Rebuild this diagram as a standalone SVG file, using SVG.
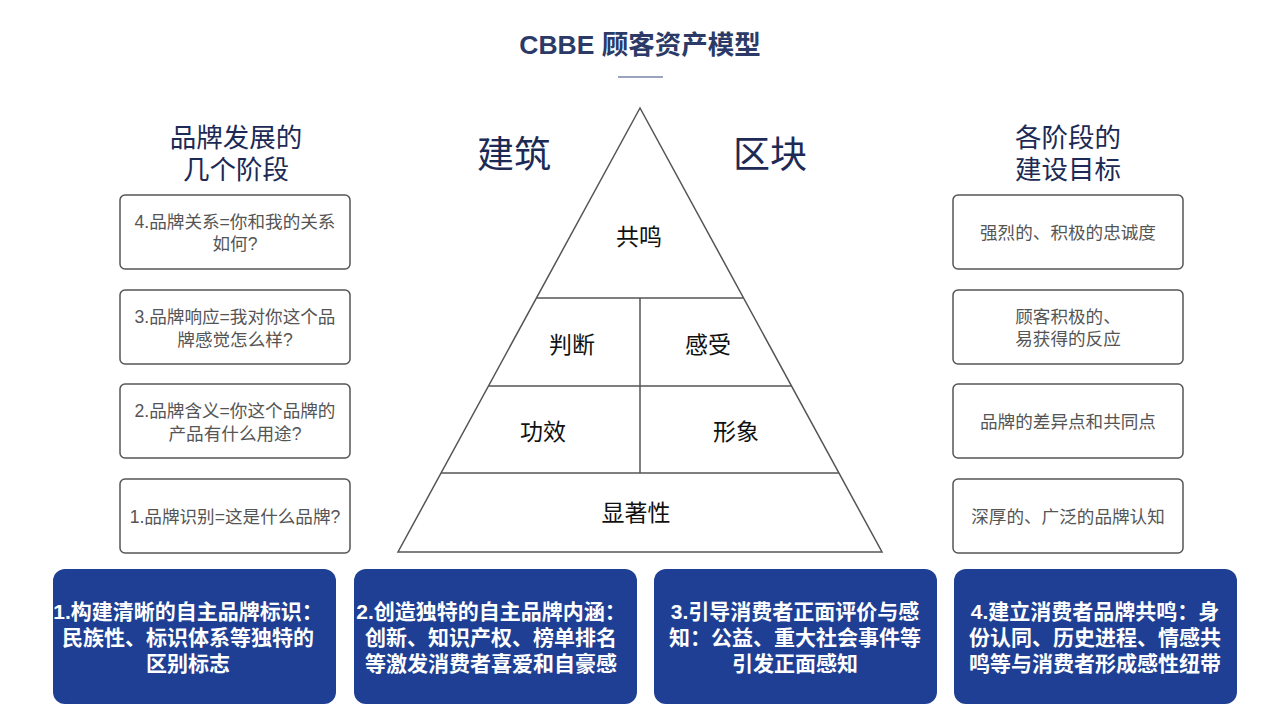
<svg xmlns="http://www.w3.org/2000/svg" width="1280" height="720" viewBox="0 0 1280 720">
<style>
text{font-family:"Liberation Sans","Noto Sans CJK SC",sans-serif;text-anchor:middle}
.title{font-size:26.5px;font-weight:bold;fill:#2b3a67}
.hdr{font-size:26.5px;fill:#1c2a55}
.big{font-size:37px;fill:#1c2a55}
.box{fill:#fff;stroke:#555;stroke-width:1.5}
.bt{font-size:17.6px;fill:#555}
.py{fill:none;stroke:#555;stroke-width:1.5}
.pt{font-size:23px;fill:#111}
.blue{fill:#1e3f94}
.wt{font-size:21px;font-weight:bold;fill:#fff}
</style>
<rect width="1280" height="720" fill="#fff"/>
<g id="title">
<text class="title" x="640" y="54">CBBE 顾客资产模型</text>
<line x1="618" y1="77" x2="663" y2="77" stroke="#7a86a8" stroke-width="1.5"/>
</g>
<g id="left-header"><text class="hdr" x="236" y="147">品牌发展的</text><text class="hdr" x="236" y="179">几个阶段</text></g>
<g id="right-header"><text class="hdr" x="1068" y="147">各阶段的</text><text class="hdr" x="1068" y="179">建设目标</text></g>
<g id="label-jianzhu"><text class="big" x="514" y="168">建筑</text></g>
<g id="label-qukuai"><text class="big" x="770" y="168">区块</text></g>
<g id="pyramid">
<polygon class="py" points="640,108 398,552 882,552"/>
<line class="py" x1="537" y1="298" x2="743" y2="298"/>
<line class="py" x1="489" y1="386" x2="791" y2="386"/>
<line class="py" x1="441" y1="473" x2="839" y2="473"/>
<line class="py" x1="640" y1="298" x2="640" y2="473"/>
<text class="pt" x="639" y="245">共鸣</text>
<text class="pt" x="572" y="353">判断</text>
<text class="pt" x="708" y="353">感受</text>
<text class="pt" x="543" y="440">功效</text>
<text class="pt" x="736" y="440">形象</text>
<text class="pt" x="636" y="521">显著性</text>
</g>
<g id="left-4"><rect class="box" x="120" y="195" width="230" height="74" rx="5"/><text class="bt" x="235" y="228">4.品牌关系=你和我的关系</text><text class="bt" x="235" y="250">如何?</text></g>
<g id="left-3"><rect class="box" x="120" y="290" width="230" height="74" rx="5"/><text class="bt" x="235" y="323">3.品牌响应=我对你这个品</text><text class="bt" x="235" y="346">牌感觉怎么样?</text></g>
<g id="left-2"><rect class="box" x="120" y="384" width="230" height="74" rx="5"/><text class="bt" x="235" y="417">2.品牌含义=你这个品牌的</text><text class="bt" x="235" y="440">产品有什么用途?</text></g>
<g id="left-1"><rect class="box" x="120" y="479" width="230" height="74" rx="5"/><text class="bt" x="235" y="523">1.品牌识别=这是什么品牌?</text></g>
<g id="right-4"><rect class="box" x="953" y="195" width="230" height="74" rx="5"/><text class="bt" x="1068" y="239">强烈的、积极的忠诚度</text></g>
<g id="right-3"><rect class="box" x="953" y="290" width="230" height="74" rx="5"/><text class="bt" x="1068" y="323">顾客积极的、</text><text class="bt" x="1068" y="345">易获得的反应</text></g>
<g id="right-2"><rect class="box" x="953" y="384" width="230" height="74" rx="5"/><text class="bt" x="1068" y="428">品牌的差异点和共同点</text></g>
<g id="right-1"><rect class="box" x="953" y="479" width="230" height="74" rx="5"/><text class="bt" x="1068" y="523">深厚的、广泛的品牌认知</text></g>
<g id="bottom-1"><rect class="blue" x="53" y="569" width="283" height="135" rx="12"/><text class="wt" x="188" y="619">1.构建清晰的自主品牌标识：</text><text class="wt" x="188" y="645">民族性、标识体系等独特的</text><text class="wt" x="188" y="671">区别标志</text></g>
<g id="bottom-2"><rect class="blue" x="354" y="569" width="283" height="135" rx="12"/><text class="wt" x="491" y="619">2.创造独特的自主品牌内涵：</text><text class="wt" x="491" y="645">创新、知识产权、榜单排名</text><text class="wt" x="491" y="671">等激发消费者喜爱和自豪感</text></g>
<g id="bottom-3"><rect class="blue" x="654" y="569" width="283" height="135" rx="12"/><text class="wt" x="795" y="619">3.引导消费者正面评价与感</text><text class="wt" x="795" y="645">知：公益、重大社会事件等</text><text class="wt" x="795" y="671">引发正面感知</text></g>
<g id="bottom-4"><rect class="blue" x="954" y="569" width="283" height="135" rx="12"/><text class="wt" x="1095" y="619">4.建立消费者品牌共鸣：身</text><text class="wt" x="1095" y="645">份认同、历史进程、情感共</text><text class="wt" x="1095" y="671">鸣等与消费者形成感性纽带</text></g>
<g id="connectors"></g>
</svg>
